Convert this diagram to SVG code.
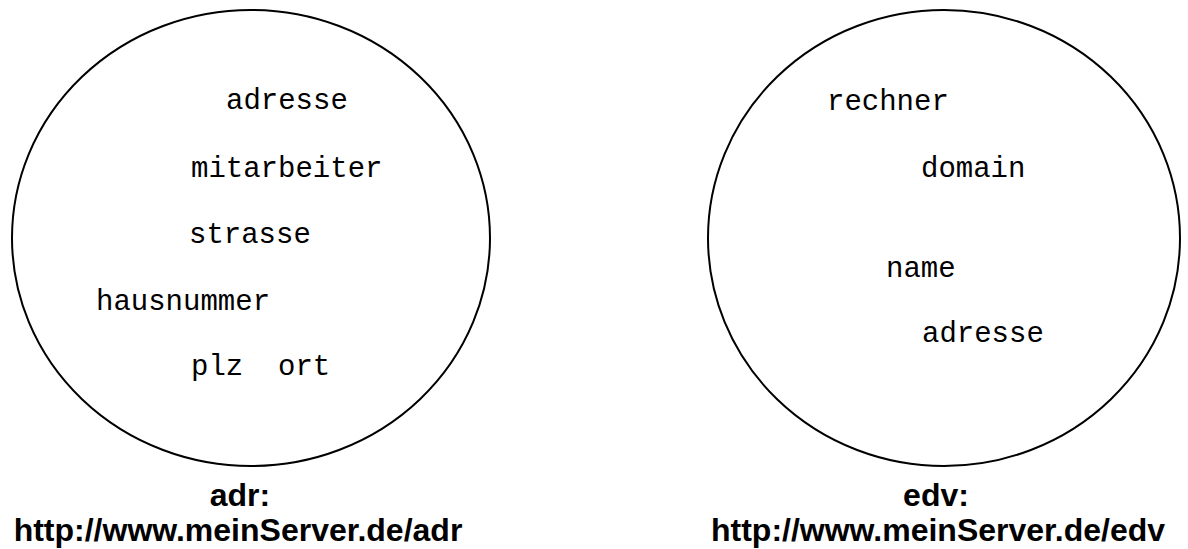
<svg xmlns="http://www.w3.org/2000/svg" width="1188" height="549" viewBox="0 0 1188 549">
<style>
.ns{fill:#fff;stroke:#000;stroke-width:2}
.t{font-family:"Liberation Mono","Courier New",monospace;font-size:29px;fill:#000}
.l{font-family:"Liberation Sans",Arial,sans-serif;font-size:32px;font-weight:bold;fill:#000;text-anchor:middle}
</style>
<rect width="1188" height="549" fill="#fff"/>
<g id="ns-adr">
<ellipse class="ns" cx="251" cy="238" rx="239" ry="228"/>
<text class="t" x="226" y="109">adresse</text>
<text class="t" x="191" y="177">mitarbeiter</text>
<text class="t" x="189" y="243">strasse</text>
<text class="t" x="96" y="310">hausnummer</text>
<text class="t" x="191" y="375" xml:space="preserve">plz  ort</text>
<text class="l" x="240" y="506">adr:</text>
<text class="l" x="238" y="541">http://www.meinServer.de/adr</text>
</g>
<g id="ns-edv">
<ellipse class="ns" cx="944" cy="238" rx="236" ry="228"/>
<text class="t" x="827" y="110">rechner</text>
<text class="t" x="921" y="177">domain</text>
<text class="t" x="886" y="277">name</text>
<text class="t" x="922" y="342">adresse</text>
<text class="l" x="936" y="506">edv:</text>
<text class="l" x="938" y="541">http://www.meinServer.de/edv</text>
</g>
<g id="connectors"/>
</svg>
